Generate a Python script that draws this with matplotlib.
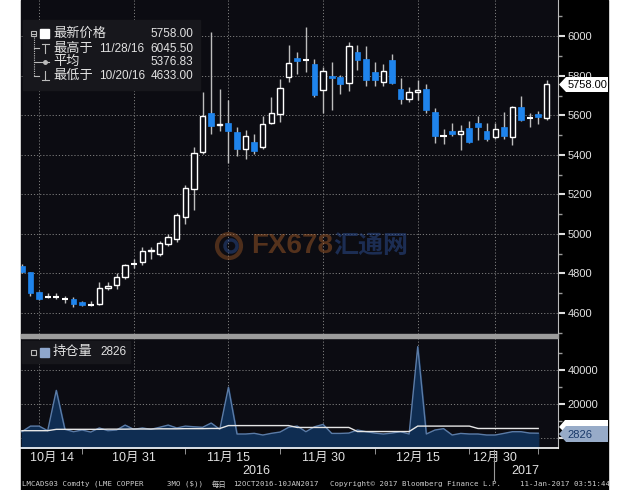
import matplotlib
import numpy as np

matplotlib.use("Agg")
import matplotlib.pyplot as plt  # noqa: E402
from matplotlib.lines import Line2D  # noqa: E402
from matplotlib.patches import Circle, Polygon, Rectangle  # noqa: E402
from matplotlib.ticker import FixedLocator, MultipleLocator  # noqa: E402
from matplotlib.transforms import Affine2D, blended_transform_factory  # noqa: E402

plt.rcParams["font.family"] = ["Liberation Sans", "Noto Sans CJK SC", "DejaVu Sans"]

# LME 3个月铜 日K (12OCT2016 - 10JAN2017)
opens = [4840, 4805, 4707, 4680, 4681, 4672, 4672, 4655, 4641, 4647,
         4728, 4741, 4780, 4845, 4860, 4912, 4898, 4950, 4975, 5088,
         5227, 5413, 5611, 5550, 5560, 5518, 5430, 5464, 5442, 5560,
         5604, 5794, 5890, 5880, 5858, 5726, 5797, 5794, 5765, 5920,
         5887, 5819, 5768, 5882, 5735, 5684, 5718, 5735, 5616, 5495,
         5520, 5506, 5537, 5560, 5520, 5489, 5540, 5489, 5641, 5585,
         5604, 5585]
highs = [4848, 4810, 4712, 4703, 4703, 4684, 4680, 4662, 4662, 4755,
         4755, 4800, 4850, 4873, 4932, 4935, 4965, 5002, 5105, 5250,
         5440, 5718, 6022, 5735, 5675, 5540, 5527, 5506, 5594, 5690,
         5785, 5955, 5920, 6045.5, 5887, 5845, 5870, 5802, 5971, 5954,
         5949, 5870, 5860, 5912, 5790, 5743, 5777, 5760, 5638, 5532,
         5560, 5549, 5570, 5594, 5560, 5560, 5616, 5645, 5696, 5611,
         5621, 5777]
lows = [4800, 4686, 4665, 4675, 4672, 4650, 4633, 4636, 4636, 4640,
        4718, 4720, 4773, 4827, 4845, 4875, 4890, 4940, 4960, 5050,
        5120, 5405, 5506, 5523, 5360, 5396, 5380, 5405, 5430, 5555,
        5565, 5768, 5811, 5819, 5695, 5611, 5628, 5709, 5723, 5827,
        5746, 5746, 5746, 5757, 5659, 5667, 5675, 5610, 5459, 5456,
        5493, 5422, 5459, 5476, 5470, 5478, 5478, 5452, 5570, 5540,
        5554, 5578]
closes = [4810, 4703, 4673, 4684, 4685, 4669, 4648, 4640, 4643, 4728,
          4735, 4784, 4842, 4850, 4915, 4918, 4954, 4985, 5097, 5233,
          5408, 5596, 5544, 5556, 5523, 5430, 5493, 5418, 5554, 5611,
          5740, 5865, 5875, 5884, 5701, 5824, 5790, 5757, 5949, 5882,
          5780, 5777, 5824, 5763, 5684, 5718, 5730, 5628, 5493, 5500,
          5506, 5520, 5464, 5540, 5481, 5532, 5493, 5641, 5577, 5590,
          5591, 5758]

# 持仓量 and its white average line
open_interest = [3700, 7000, 7000, 4300, 28000, 5100, 3700, 4700, 3500, 5900,
                 4300, 4700, 7600, 5100, 5900, 5100, 6300, 7600, 5900, 7000,
                 6600, 6300, 8800, 5100, 29800, 2350, 2350, 2750, 1760, 2750,
                 3500, 6300, 7000, 3700, 6600, 8000, 2700, 2700, 2900, 4700,
                 3700, 2900, 2350, 2900, 3700, 2350, 53700, 2350, 4700, 5500,
                 1760, 2700, 2350, 2350, 1760, 1760, 2700, 3700, 3700, 2900,
                 2826]
oi_average = [4300, 4300, 4300, 4300, 5100, 5100, 5100, 5100, 5100, 5100,
              5200, 5200, 5200, 5300, 5300, 5300, 5400, 5400, 5400, 5500,
              5500, 5500, 5600, 5600, 7300, 7300, 7300, 7300, 7300, 7300,
              7300, 7300, 6200, 6200, 6200, 6200, 6200, 6200, 6200, 3800,
              3800, 3800, 3800, 3800, 3800, 3800, 7000, 7000, 7000, 7000,
              7000, 7000, 7000, 5600, 5600, 5600, 5600, 5600, 5600, 5600,
              5600]

date_pos = [2, 13, 24, 35, 46, 55]
date_labels = ["10月 14", "10月 31", "11月 15", "11月 30", "12月 15", "12月 30"]
minor_pos = [7, 19, 30, 41, 52, 60]
price_ticks = [4600, 4800, 5000, 5200, 5400, 5600, 5800, 6000]
oi_ticks = [0, 20000, 40000]

BG = "#0c0c12"
BLUE = "#1f84ec"
GRID = "#7c7c7c"
TXT = "#e2e2e2"

W, H = 630, 490
fig = plt.figure(figsize=(6.3, 4.9), dpi=100, facecolor="white")
# pixel coords, y measured from the top
pix = Affine2D().scale(1 / W, -1 / H).translate(0, 1) + fig.transFigure

fig.add_artist(Rectangle((21, 0), 587, 490, transform=pix, color="black", zorder=-10))

ax1 = fig.add_axes([21 / W, 1 - 334 / H, 537 / W, 334 / H])
ax2 = fig.add_axes([21 / W, 1 - 448 / H, 537 / W, 110 / H])

# ---- price panel
x = np.arange(len(opens))
for i in x:
    o, h, l, c = opens[i], highs[i], lows[i], closes[i]
    ax1.vlines(i, l, h, color="#bdbdbd", lw=1, zorder=2)
    if abs(c - o) < 6:
        ax1.hlines((o + c) / 2, i - 0.36, i + 0.36, color="white", lw=1.5, zorder=3)
    elif c > o:
        ax1.bar(i, c - o, bottom=o, width=0.62, facecolor=BG, edgecolor="white", lw=1, zorder=3)
    else:
        ax1.bar(i, max(o - c, 8), bottom=c, width=0.68, facecolor=BLUE, edgecolor=BLUE, lw=0.5, zorder=3)

ax1.set_xlim(-0.1, 62.3)
ax1.set_ylim(4494, 6183)
ax1.set_facecolor(BG)
ax1.yaxis.tick_right()
ax1.set_yticks(price_ticks)
ax1.yaxis.set_minor_locator(MultipleLocator(100))
ax1.set_xticks(date_pos)
ax1.tick_params(axis="x", length=0, labelbottom=False)
ax1.tick_params(axis="y", which="major", length=5, width=1.5, color="#dddddd",
                labelcolor=TXT, labelsize=8, pad=2)
ax1.tick_params(axis="y", which="minor", length=3, width=1, color="#999999")
ax1.grid(True, color=GRID, ls=(0, (1.2, 2)), lw=0.7)
for s in ["top", "left", "bottom"]:
    ax1.spines[s].set_visible(False)
ax1.spines["right"].set_color("#bbbbbb")

# ---- open interest panel
xo = np.arange(len(open_interest))
ax2.fill_between(xo, open_interest, -5880, color="#0f2d52", zorder=2)
ax2.plot(xo, open_interest, color="#5b7ba6", lw=1, zorder=3)
ax2.plot(xo, oi_average, color="#e6e6e6", lw=1, zorder=4)
ax2.set_xlim(-0.1, 62.3)
ax2.set_ylim(-5880, 58800)
ax2.set_facecolor(BG)
ax2.yaxis.tick_right()
ax2.set_yticks(oi_ticks)
ax2.set_yticklabels(["", "20000", "40000"])
ax2.yaxis.set_minor_locator(FixedLocator([10000, 30000, 50000]))
ax2.set_xticks(date_pos)
ax2.set_xticklabels([])
ax2.xaxis.set_minor_locator(FixedLocator(minor_pos))
ax2.tick_params(axis="x", which="major", length=0)
ax2.tick_params(axis="x", which="minor", length=4, color="#aaaaaa")
ax2.tick_params(axis="y", which="major", length=5, width=1.5, color="#dddddd",
                labelcolor=TXT, labelsize=8, pad=2)
ax2.tick_params(axis="y", which="minor", length=3, width=1, color="#999999")
ax2.grid(True, which="major", color=GRID, ls=(0, (1.2, 2)), lw=0.7)
for s in ["top", "left"]:
    ax2.spines[s].set_visible(False)
ax2.spines["right"].set_color("#bbbbbb")
ax2.spines["bottom"].set_color("white")
ax2.spines["bottom"].set_linewidth(1.2)

bt = blended_transform_factory(ax2.transData, ax2.transAxes)
for p, lab in zip(date_pos, date_labels):
    xp = p + 1.5 if p == date_pos[0] else p
    ax2.text(xp, -0.09, lab, transform=bt, ha="center", va="center",
             color=TXT, fontsize=9, clip_on=False)

# separator between panels
fig.add_artist(Rectangle((21, 334), 537, 4, transform=pix, color="#9c9c9c", zorder=2))

# year marks
fig.add_artist(Line2D([494, 494], [450, 480], transform=pix, color="#999999", lw=0.8, zorder=1))
fig.text(256, 471, "2016", transform=pix, ha="center", va="center", color=TXT, fontsize=9)
fig.text(525, 471, "2017", transform=pix, ha="center", va="center", color=TXT, fontsize=9)

# ---- legend box (price)
fig.add_artist(Rectangle((23, 20), 177, 70, transform=pix, color="#17171c", zorder=3))
rows = [34, 48.5, 62, 76]
tree = dict(transform=pix, color="#bbbbbb", lw=0.8, zorder=4)
fig.add_artist(Line2D([33.5, 33.5], [37, 76], ls=(0, (1, 1)), **tree))
for ry in rows[1:]:
    fig.add_artist(Line2D([33.5, 39], [ry, ry], **tree))
fig.add_artist(Rectangle((31, 31.5), 5, 5, transform=pix, fill=False, ec="#bbbbbb", lw=0.8, zorder=4))
fig.add_artist(Line2D([32, 35], [34, 34], **tree))
fig.add_artist(Rectangle((40, 29.5), 8.5, 9, transform=pix, color="white", zorder=4))
fig.add_artist(Line2D([41.5, 48.5], [44, 44], **tree))
fig.add_artist(Line2D([45, 45], [44, 53], **tree))
fig.add_artist(Line2D([40, 49], [62, 62], **tree))
fig.add_artist(Line2D([45], [62], marker="o", ms=2.5, **tree))
fig.add_artist(Line2D([45, 45], [71, 80], **tree))
fig.add_artist(Line2D([41.5, 48.5], [80, 80], **tree))

leg_labels = ["最新价格", "最高于", "平均", "最低于"]
leg_dates = ["", "11/28/16", "", "10/20/16"]
leg_values = ["5758.00", "6045.50", "5376.83", "4633.00"]
for ry, lab, d, v in zip(rows, leg_labels, leg_dates, leg_values):
    fig.text(53, ry, lab, transform=pix, va="center", color=TXT, fontsize=9.5, zorder=5)
    if d:
        fig.text(99, ry, d, transform=pix, va="center", color=TXT, fontsize=8.5, zorder=5)
    fig.text(193, ry, v, transform=pix, ha="right", va="center", color=TXT, fontsize=8.5, zorder=5)

# ---- legend box (open interest)
fig.add_artist(Rectangle((22, 341), 108, 22, transform=pix, color="#17171c", zorder=3))
fig.add_artist(Rectangle((31, 349.5), 5, 5, transform=pix, fill=False, ec="#bbbbbb", lw=0.8, zorder=4))
fig.add_artist(Rectangle((40, 347.5), 8.5, 9, transform=pix, color="#8ea6cc", zorder=4))
fig.text(53, 352, "持仓量", transform=pix, va="center", color=TXT, fontsize=9.5, zorder=5)
fig.text(100, 352, "2826", transform=pix, va="center", color=TXT, fontsize=8.5, zorder=5)

# ---- last value tags
fig.add_artist(Polygon([(559, 84.5), (566, 77), (608, 77), (608, 92), (566, 92)],
                       closed=True, transform=pix, fc="white", ec="none", zorder=5))
fig.text(568, 84.5, "5758.00", transform=pix, va="center", color="black", fontsize=8, zorder=6)
fig.add_artist(Polygon([(559, 427), (565, 420), (608, 420), (608, 433), (565, 433)],
                       closed=True, transform=pix, fc="white", ec="none", zorder=5))
fig.add_artist(Polygon([(559, 434), (566, 426), (608, 426), (608, 442), (566, 442)],
                       closed=True, transform=pix, fc="#97abc8", ec="none", zorder=6))
fig.text(567, 434.5, "2826", transform=pix, va="center", color="#1a3a6a", fontsize=8, zorder=7)

# ---- watermark
fig.add_artist(Circle((229, 246), 12, transform=pix, fill=False, ec="#b0622a", lw=3, alpha=0.4, zorder=4))
fig.add_artist(Circle((231, 246), 6, transform=pix, fill=False, ec="#2a4a8a", lw=2.5, alpha=0.5, zorder=4))
fig.text(251, 246, "FX678", transform=pix, va="center", color="#b0622a", alpha=0.45,
         fontsize=20, fontweight="bold", zorder=4)
fig.text(333, 246, "汇通网", transform=pix, va="center", color="#2a4a8a", alpha=0.55,
         fontsize=18, fontweight="bold", zorder=4)

# ---- footer
foot = dict(transform=pix, va="center", color="#cfcfcf", fontsize=5.3,
            family=["DejaVu Sans Mono", "Noto Sans CJK SC"])
fig.text(22, 484, "LMCADS03 Comdty (LME COPPER", **foot)
fig.text(167, 484, "3MO ($))", **foot)
fig.text(212, 484, "每日", **foot)
fig.text(233, 484, "12OCT2016-10JAN2017", **foot)
fig.text(330, 484, "Copyright© 2017 Bloomberg Finance L.P.", **foot)
fig.text(520, 484, "11-Jan-2017 03:51:44", **foot)

fig.savefig("out.png", dpi=100, facecolor="white")
